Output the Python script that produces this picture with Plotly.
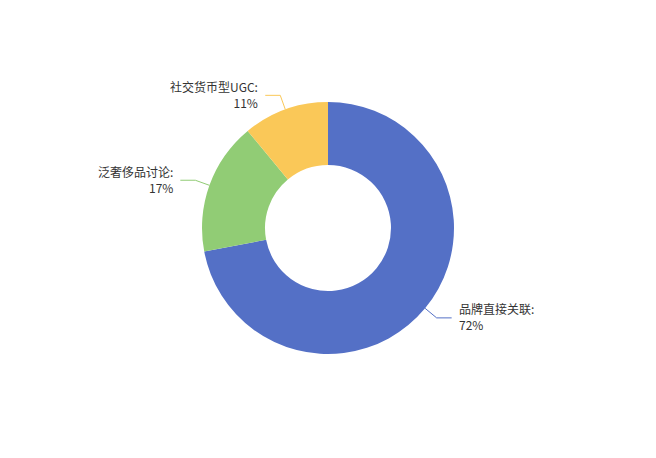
import math
import plotly.graph_objects as go

categories = ["品牌直接关联", "泛奢侈品讨论", "社交货币型UGC"]
values = [72, 17, 11]
colors = ["#5470c6", "#91cc75", "#fac858"]

OFF = 8  # default page body margin
W, H = 656 - 2 * OFF, 458 - 2 * OFF
cx, cy, R = 328, 228, 126
hole = 0.5
L1, L2, GAP = 15, 15, 5

def px(x):
    return (x - OFF) / W

def py(y):
    return 1 - (y - OFF) / H

fig = go.Figure()
fig.add_trace(go.Pie(
    labels=categories, values=values, hole=hole, sort=False,
    direction="clockwise", rotation=0,
    marker=dict(colors=colors, line=dict(width=0)),
    textinfo="none", hoverinfo="none", showlegend=False,
    domain=dict(x=[px(cx - R), px(cx + R)], y=[py(cy + R), py(cy - R)]),
))

total = sum(values)
cum = 0
shapes, annotations = [], []
for name, v, c in zip(categories, values, colors):
    pct = v / total
    mid = (cum + pct / 2) * 2 * math.pi
    cum += pct
    sx, sy = math.sin(mid), -math.cos(mid)
    x0, y0 = cx + R * sx, cy + R * sy
    x1, y1 = cx + (R + L1) * sx, cy + (R + L1) * sy
    right = sx >= 0
    x2 = x1 + (L2 if right else -L2)
    path = f"M {px(x0)},{py(y0)} L {px(x1)},{py(y1)} L {px(x2)},{py(y1)}"
    shapes.append(dict(type="path", path=path, xref="paper", yref="paper",
                       line=dict(color=c, width=1)))
    tx = x2 + (GAP if right else -GAP)
    annotations.append(dict(
        x=px(tx), y=py(y1 - 1), xref="paper", yref="paper",
        text=f"{name}:<br>{round(pct * 100)}%", showarrow=False,
        xanchor="left" if right else "right", yanchor="middle",
        align="left" if right else "right",
        font=dict(family="Noto Sans CJK SC", size=12, color="#333333"),
    ))

fig.update_layout(
    width=W, height=H, margin=dict(l=0, r=0, t=0, b=0),
    paper_bgcolor="white", plot_bgcolor="white",
    shapes=shapes, annotations=annotations,
)
fig.write_html("out.html")
